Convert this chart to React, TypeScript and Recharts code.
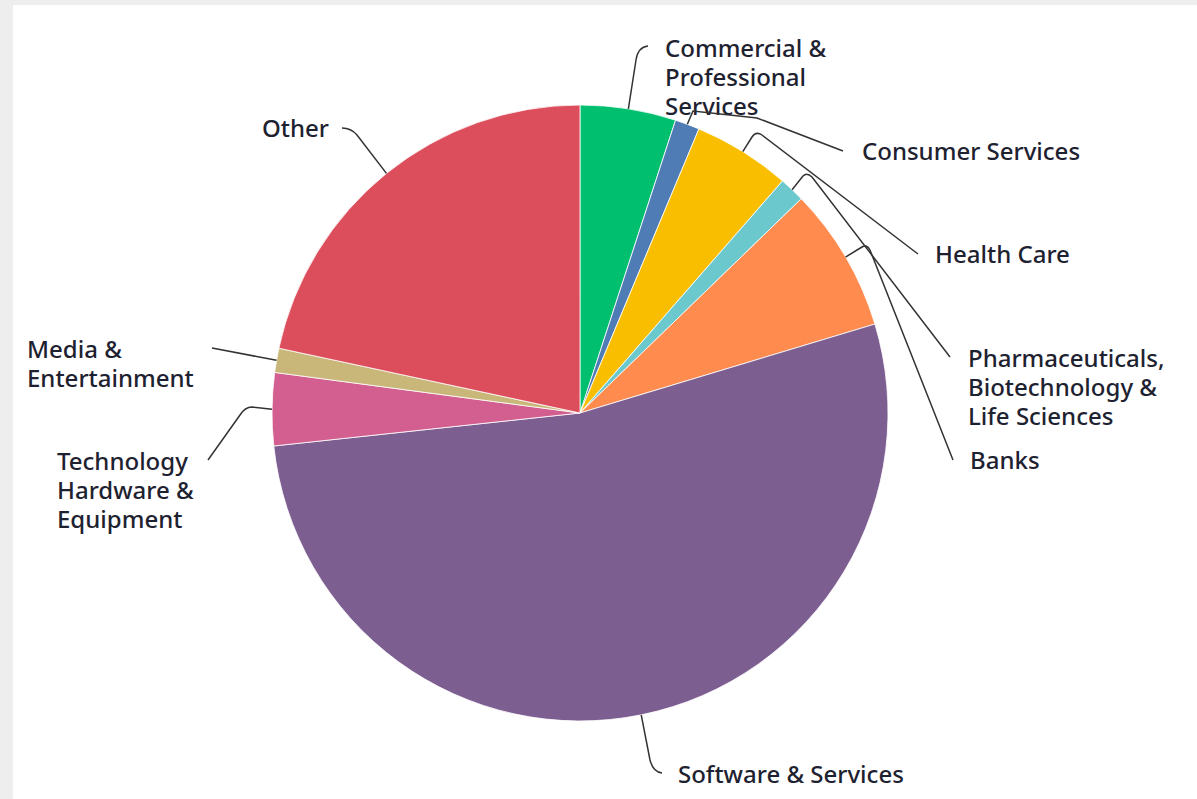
import { PieChart, Pie } from 'recharts'

// Sector shares (% of total), clockwise from 12 o'clock
const categories = [
  'Commercial & Professional Services',
  'Consumer Services',
  'Health Care',
  'Pharmaceuticals, Biotechnology & Life Sciences',
  'Banks',
  'Software & Services',
  'Technology Hardware & Equipment',
  'Media & Entertainment',
  'Other',
]
const shares = [5.02, 1.29, 5.11, 1.34, 7.58, 52.96, 3.81, 1.27, 21.63]
const sliceColors = [
  '#00bf6f',
  '#507cb6',
  '#f9be00',
  '#6bc8cd',
  '#ff8b4f',
  '#7d5e90',
  '#d25f90',
  '#c9b77a',
  '#dc4e5b',
]

// label placement: text lines, first baseline, leader tail after the slice point
const LABEL_LAYOUT: Record<string, { lines: string[]; x: number; y: number; tail: string }> = {
  'Commercial & Professional Services': {
    lines: ['Commercial &', 'Professional', 'Services'],
    x: 665, y: 57, tail: 'L636,60 Q638,47 648,46',
  },
  'Consumer Services': {
    lines: ['Consumer Services'],
    x: 862, y: 160, tail: 'L693,111 L757,118 L843,151',
  },
  'Health Care': {
    lines: ['Health Care'],
    x: 935, y: 263, tail: 'L752,137 Q756,131 762,135 L918,254',
  },
  'Pharmaceuticals, Biotechnology & Life Sciences': {
    lines: ['Pharmaceuticals,', 'Biotechnology &', 'Life Sciences'],
    x: 968, y: 367, tail: 'L803,176 Q807,172 812,177 L950,357',
  },
  Banks: {
    lines: ['Banks'],
    x: 970, y: 469, tail: 'L862,247 Q867,244 870,250 L953,460',
  },
  'Software & Services': {
    lines: ['Software & Services'],
    x: 678, y: 783, tail: 'L650,760 Q653,772 662,773',
  },
  'Technology Hardware & Equipment': {
    lines: ['Technology', 'Hardware &', 'Equipment'],
    x: 57, y: 470, tail: 'L252,407 Q245,407 240,415 L208,460',
  },
  'Media & Entertainment': {
    lines: ['Media &', 'Entertainment'],
    x: 27, y: 358, tail: 'L212,348',
  },
  Other: {
    lines: ['Other'],
    x: 262, y: 137, tail: 'L357,135 Q351,128 342,128',
  },
}

const RADIAN = Math.PI / 180

const tableData = categories.map((name, i) => ({
  name,
  value: shares[i],
  fill: sliceColors[i],
}))

// eslint-disable-next-line @typescript-eslint/no-explicit-any
const renderLabel = (props: any) => {
  const { cx, cy, midAngle, outerRadius, name } = props
  const layout = LABEL_LAYOUT[name]
  if (!layout) return null
  const sx = cx + outerRadius * Math.cos(-midAngle * RADIAN)
  const sy = cy + outerRadius * Math.sin(-midAngle * RADIAN)
  return (
    <g>
      <path
        d={`M${sx},${sy} ${layout.tail}`}
        fill="none"
        stroke="#333333"
        strokeWidth={1.5}
      />
      <text
        x={layout.x}
        y={layout.y}
        fill="#1e2230"
        stroke="#ffffff"
        strokeWidth={4}
        paintOrder="stroke"
        fontSize={24}
        fontWeight={500}
        fontFamily="'Noto Sans', sans-serif"
        textAnchor="start"
      >
        {layout.lines.map((line, k) => (
          <tspan key={k} x={layout.x} dy={k === 0 ? 0 : 29}>
            {line}
          </tspan>
        ))}
      </text>
    </g>
  )
}

export default function App() {
  return (
    <div
      style={{
        position: 'fixed',
        left: 0,
        top: 0,
        width: 1197,
        height: 799,
        background: '#eeeeee',
        overflow: 'hidden',
      }}
    >
      <div
        style={{
          position: 'absolute',
          left: 13,
          top: 5,
          width: 1184,
          height: 794,
          background: '#ffffff',
        }}
      />
      <div style={{ position: 'absolute', left: 0, top: 0 }}>
        <PieChart width={1197} height={799} margin={{ top: 0, right: 0, bottom: 0, left: 0 }}>
          <Pie
            data={tableData}
            dataKey="value"
            nameKey="name"
            cx={580}
            cy={413}
            outerRadius={308}
            startAngle={90}
            endAngle={-270}
            stroke="#ffffff"
            strokeWidth={0.8}
            label={renderLabel}
            labelLine={false}
            isAnimationActive={false}
          />
        </PieChart>
      </div>
    </div>
  )
}
